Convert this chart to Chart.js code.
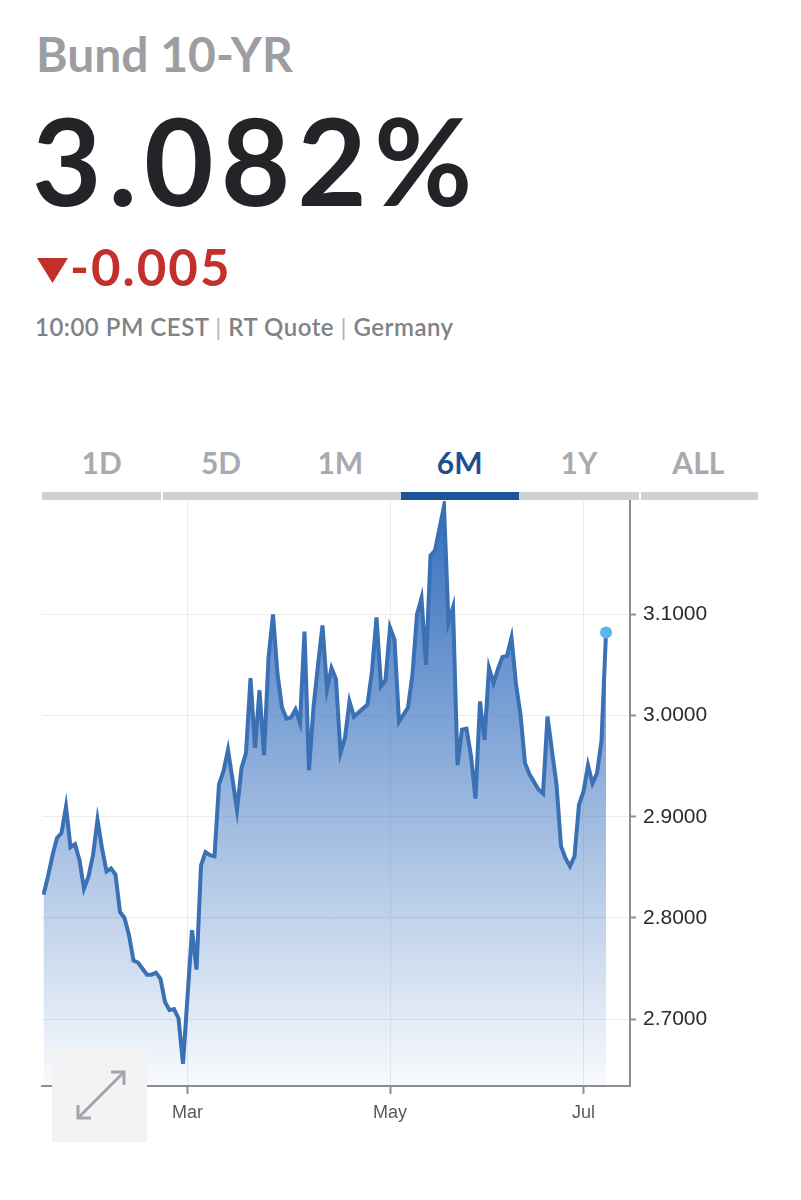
<!DOCTYPE html>
<html>
<head>
<meta charset="utf-8">
<script src="https://cdn.jsdelivr.net/npm/chart.js@4.4.1/dist/chart.umd.min.js"></script>
<style>
  body { margin: 0; background: #fff; width: 801px; height: 1200px; position: relative; overflow: hidden; font-family: Lato, 'Open Sans', sans-serif; }
  .abs { position: absolute; white-space: nowrap; line-height: 1; }
  #title { left: 36px; top: 30px; font-size: 48px; font-weight: 700; color: #9c9ea3; }
  #price { left: 32px; top: 100px; font-size: 120px; font-weight: 700; color: #222428; letter-spacing: 7px; }
  #change { left: 70px; top: 241px; font-size: 51px; font-weight: 700; color: #c3302c; letter-spacing: 2px; }
  #meta { left: 35px; top: 315px; font-size: 24px; font-weight: 600; color: #7f8287; letter-spacing: 0.5px; }
  #meta .sep { color: #b3b4b7; font-weight: 400; }
  .tab { position: absolute; top: 447px; width: 119.33px; text-align: center; font-size: 30px; font-weight: 700; color: #a8aaaf; line-height: 1; }
  .tab.on { color: #1f4f8f; }
  #bar { position: absolute; left: 42px; top: 492px; width: 716px; height: 8px; background: #cfd0d5; }
  .gap { position: absolute; top: 0; width: 2px; height: 8px; background: #fff; }
  #active { position: absolute; left: 359px; top: 0; width: 118px; height: 8px; background: #1f5496; }
  #chart { position: absolute; left: 0; top: 495px; }
  #expand { position: absolute; left: 52px; top: 1050px; width: 95px; height: 92px; background: #f3f3f6; }
</style>
</head>
<body>
<div id="title" class="abs">Bund 10-YR</div>
<div id="price" class="abs">3.082%</div>
<svg class="abs" style="left:37px;top:258px" width="32" height="26"><polygon points="0,0 31,0 15.5,25" fill="#c3302c"/></svg>
<div id="change" class="abs">-0.005</div>
<div id="meta" class="abs">10:00 PM CEST <span class="sep">|</span> RT Quote <span class="sep">|</span> Germany</div>

<div class="tab" style="left:42px">1D</div>
<div class="tab" style="left:161.33px">5D</div>
<div class="tab" style="left:280.67px">1M</div>
<div class="tab on" style="left:400px">6M</div>
<div class="tab" style="left:519.33px">1Y</div>
<div class="tab" style="left:638.67px">ALL</div>
<div id="bar">
  <div class="gap" style="left:119px"></div>
  <div class="gap" style="left:597px"></div>
  <div id="active"></div>
</div>

<canvas id="chart" width="801" height="657"></canvas>

<div id="expand">
  <svg width="95" height="92">
    <g stroke="#a4a4a9" stroke-width="3" fill="none">
      <line x1="27" y1="67" x2="71" y2="23"/>
      <polyline points="59,22 72,22 72,35"/>
      <polyline points="26,55 26,68 39,68"/>
    </g>
  </svg>
</div>

<script>
// trading-day index (0 = first day of the 6M window) and closing yield
const dayIndex = [0, 1, 2, 3, 4, 5, 6, 7, 8, 9, 10, 11, 12, 13, 14, 15, 16, 17, 18, 19, 20, 21,
  23, 24, 25, 26, 27, 28, 29, 30, 31, 33, 34, 35, 36, 37, 38, 39, 40, 41, 42, 43, 44, 45,
  46, 47, 48, 49, 50, 51, 52, 53, 54, 55, 56, 57, 58, 59, 60, 61, 62, 63, 64, 65, 66, 67,
  68, 69, 71, 72, 73, 74, 75, 76, 77, 78, 79, 80, 81, 82, 83, 84, 85, 86, 87, 89, 90, 91,
  92, 93, 94, 95, 96, 97, 98, 99, 100, 101, 102, 103, 104, 105, 106, 107, 108, 110, 111,
  112, 113, 114, 115, 116, 117, 118, 119, 120, 121, 122, 123, 124, 125];
const yields = [2.823, 2.841, 2.862, 2.879, 2.884, 2.910, 2.870, 2.873, 2.857, 2.829, 2.841,
  2.862, 2.897, 2.869, 2.846, 2.849, 2.843, 2.806, 2.800, 2.783, 2.758, 2.756,
  2.744, 2.744, 2.746, 2.740, 2.717, 2.709, 2.710, 2.701, 2.656, 2.788, 2.749, 2.852, 2.865,
  2.862, 2.861, 2.932, 2.945, 2.966, 2.937, 2.907, 2.948, 2.963,
  3.037, 2.968, 3.025, 2.961, 3.057, 3.100, 3.041, 3.008, 2.997, 2.998, 3.006, 2.993, 3.083,
  2.946, 3.008, 3.050, 3.089, 3.026, 3.047, 3.036, 2.963, 2.978,
  3.014, 2.999, 3.007, 3.011, 3.044, 3.097, 3.029, 3.035, 3.087, 3.075, 2.994, 3.001, 3.008,
  3.041, 3.100, 3.116, 3.050, 3.158, 3.163, 3.207, 3.092, 3.107,
  2.951, 2.986, 2.987, 2.960, 2.918, 3.014, 2.976, 3.047, 3.032, 3.046, 3.058, 3.059, 3.077,
  3.031, 3.001, 2.953, 2.942, 2.927, 2.923,
  2.999, 2.965, 2.932, 2.871, 2.859, 2.851, 2.861, 2.912, 2.925, 2.951, 2.933, 2.943, 2.975, 3.082];
const monthTicks = [32, 77, 120];
const monthLabels = ['Mar', 'May', 'Jul'];
const yTicks = [2.7, 2.8, 2.9, 3.0, 3.1];

const points = dayIndex.map((d, i) => ({ x: d, y: yields[i] }));
const last = points.length - 1;

const ctx = document.getElementById('chart').getContext('2d');
new Chart(ctx, {
  type: 'line',
  data: {
    datasets: [{
      data: points,
      borderColor: '#3a70b4',
      borderWidth: 4,
      tension: 0,
      fill: 'start',
      backgroundColor: (c) => {
        const area = c.chart.chartArea;
        if (!area) return 'rgba(52,110,190,0.5)';
        const g = c.chart.ctx.createLinearGradient(0, area.top, 0, area.bottom);
        g.addColorStop(0, 'rgba(52,110,190,1)');
        g.addColorStop(1, 'rgba(52,110,190,0.03)');
        return g;
      },
      pointRadius: (c) => c.dataIndex === last ? 6 : 0,
      pointBackgroundColor: '#5ab4f2',
      pointBorderWidth: 0
    }]
  },
  options: {
    responsive: false,
    animation: false,
    layout: { padding: { left: 42, top: 0, right: 0, bottom: 0 } },
    plugins: { legend: { display: false }, tooltip: { enabled: false } },
    scales: {
      x: {
        type: 'linear',
        min: -0.333,
        max: 130.333,
        grid: { color: '#ececec', lineWidth: 1, tickLength: 8, tickColor: '#8e8e8e', tickWidth: 2 },
        border: { color: '#8e8e8e', width: 2 },
        ticks: {
          autoSkip: false,
          maxRotation: 0,
          padding: 8,
          color: '#5a5a5a',
          font: { family: "'Liberation Sans', Arial, sans-serif", size: 18 },
          callback: (v) => monthLabels[monthTicks.indexOf(v)]
        },
        afterBuildTicks: (s) => { s.ticks = monthTicks.map(v => ({ value: v })); },
        afterFit: (s) => { s.height = 66; s.paddingLeft = 0; s.paddingRight = 0; }
      },
      y: {
        position: 'right',
        min: 2.634,
        max: 3.212,
        grid: { color: '#ececec', lineWidth: 1, tickLength: 6, tickColor: '#8e8e8e', tickWidth: 2 },
        border: { color: '#8e8e8e', width: 2 },
        ticks: {
          padding: 7,
          color: '#2b2b2b',
          font: { family: "'Liberation Sans', Arial, sans-serif", size: 21 },
          callback: (v) => v.toFixed(4)
        },
        afterBuildTicks: (s) => { s.ticks = yTicks.map(v => ({ value: v })); },
        afterFit: (s) => { s.width = 171; s.paddingTop = 0; s.paddingBottom = 0; }
      }
    }
  }
});
</script>
</body>
</html>
